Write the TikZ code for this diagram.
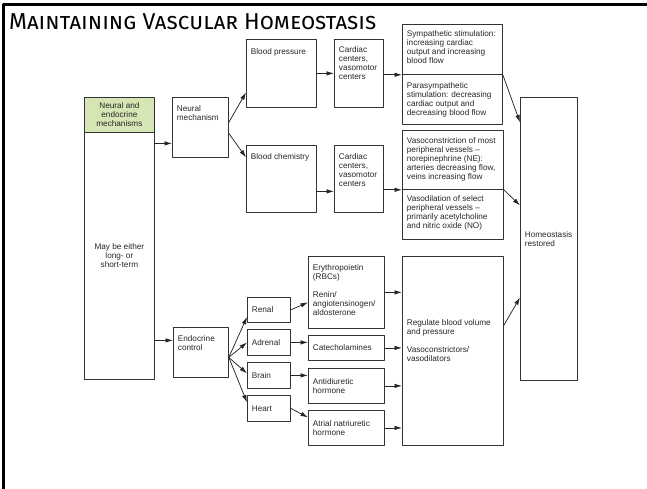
\documentclass[tikz,border=0pt]{standalone}
\usepackage{fontspec}
\setmainfont{Liberation Sans}
\newfontfamily\titlefont[Letters=SmallCaps]{Fira Sans}
\usetikzlibrary{arrows.meta}
\definecolor{hdrgreen}{RGB}{214,229,180}
\newcommand{\celltop}[4][8pt]{\parbox[c][#3][t]{#2}{\raggedright\vspace*{#1}#4}}
\newcommand{\cellmid}[3]{\parbox[c][#2][c]{#1}{\raggedright#3}}

\begin{document}
\begin{tikzpicture}[x=1pt,y=-1pt,line cap=round,line join=round,
  blk/.style={draw=black!80,line width=.8pt,anchor=north west,inner xsep=4.5pt,inner ysep=0pt,
    text=black!85,font=\fontsize{8.2}{9}\selectfont},
  arr/.style={-{Latex[length=7.5pt,width=4.5pt]},draw=black!85,line width=.75pt}]
\path[use as bounding box] (0,0) rectangle (647,489);
\draw[line width=3pt] (647,5) -- (3.5,5) -- (3.5,489);
\node[font=\titlefont\fontsize{23}{23}\selectfont,anchor=base west,inner sep=0pt] (title) at (9,30) {Maintaining Vascular Homeostasis};
\node[blk,fill=hdrgreen] (mech) at (84,97) {\cellmid{61pt}{35pt}{\centering Neural and\\endocrine\\mechanisms}};
\node[blk] (term) at (84,132) {\cellmid{61pt}{247pt}{\centering May be either\\long- or\\short-term}};
\node[blk] (neural) at (172,97) {\celltop{47pt}{60pt}{Neural\\mechanism}};
\node[blk] (bp) at (246,39) {\celltop[9pt]{61pt}{68pt}{Blood pressure}};
\node[blk] (chem) at (246,145) {\celltop[8.3pt]{61pt}{67pt}{Blood chemistry}};
\node[blk] (cc1) at (334,39) {\celltop[7.3pt]{40pt}{68pt}{Cardiac\\centers,\\vasomotor\\centers}};
\node[blk] (cc2) at (334,145) {\celltop{40pt}{67pt}{Cardiac\\centers,\\vasomotor\\centers}};
\node[blk] (symp) at (402,24) {\celltop[6.3pt]{91pt}{50pt}{Sympathetic stimulation:\\increasing cardiac\\output and increasing\\blood flow}};
\node[blk] (para) at (402,74) {\celltop{91pt}{50pt}{Parasympathetic\\stimulation: decreasing\\cardiac output and\\decreasing blood flow}};
\node[blk] (vcon) at (402,130) {\celltop[7.3pt]{92pt}{59pt}{Vasoconstriction of most\\peripheral vessels --\\norepinephrine (NE):\\arteries decreasing flow,\\veins increasing flow}};
\node[blk] (vdil) at (402,189) {\celltop[6.3pt]{92pt}{50pt}{Vasodilation of select\\peripheral vessels --\\primarily acetylcholine\\and nitric oxide (NO)}};
\node[blk] (home) at (520,97) {\cellmid{48pt}{283pt}{Homeostasis\\restored}};
\node[blk] (endo) at (173,327) {\celltop[8.3pt]{46pt}{50pt}{Endocrine\\control}};
\node[blk] (renal) at (247,297) {\cellmid{34pt}{25pt}{Renal}};
\node[blk] (adrenal) at (247,329) {\cellmid{34pt}{26pt}{Adrenal}};
\node[blk] (brain) at (247,362) {\cellmid{34pt}{26pt}{Brain}};
\node[blk] (heart) at (247,395) {\cellmid{34pt}{26pt}{Heart}};
\node[blk] (epo) at (308,256) {\celltop[8.3pt]{67pt}{72pt}{Erythropoietin\\(RBCs)\\[9pt]Renin/\\angiotensinogen/\\aldosterone}};
\node[blk] (cat) at (308,335) {\cellmid{67pt}{25pt}{Catecholamines}};
\node[blk] (adh) at (308,368) {\cellmid{67pt}{35pt}{Antidiuretic\\hormone}};
\node[blk] (anp) at (308,410) {\cellmid{67pt}{35pt}{Atrial natriuretic\\hormone}};
\node[blk] (reg) at (402,256) {\celltop[63pt]{92pt}{189pt}{Regulate blood volume\\and pressure\\[9pt]Vasoconstrictors/\\vasodilators}};
\draw[arr] ([yshift=-16pt]neural.west -| term.east) -- ([yshift=-16pt]neural.west);
\draw[arr] ([yshift=5pt]neural.east) -- ([yshift=-19pt]bp.west);
\draw[arr] ([yshift=-6pt]neural.east) -- ([yshift=21.5pt]chem.west);
\draw[arr] (bp.east) -- (cc1.west);
\draw[arr] ([yshift=-12.5pt]cc2.west -| chem.east) -- ([yshift=-12.5pt]cc2.west);
\draw[arr] (symp.south west -| cc1.east) -- (symp.south west);
\draw[arr] (vcon.south west -| cc2.east) -- (vcon.south west);
\draw[arr] (symp.south east) -- ([yshift=116.5pt]home.west);
\draw[arr] (vcon.south east) -- ([yshift=33.5pt]home.west);
\draw[arr] ([yshift=25.5pt]reg.east) -- ([yshift=-58.5pt]home.west);
\draw[arr] ([yshift=12pt]endo.west -| term.east) -- ([yshift=12pt]endo.west);
\foreach \t/\s in {renal/-7pt,adrenal/0pt,brain/2pt,heart/6pt}
  \draw[arr] ([yshift=-5pt]endo.east) -- ([yshift=\s]\t.west);
\draw[arr] (renal.east) -- ([yshift=-10pt]epo.west);
\draw[arr] (adrenal.east) -- (adrenal.east -| cat.west);
\draw[arr] (brain.east) -- (brain.east -| adh.west);
\draw[arr] (heart.east) -- ([yshift=10.5pt]anp.west);
\foreach \s in {epo,cat,adh,anp}
  \draw[arr] (\s.east) -- (\s.east -| reg.west);
\end{tikzpicture}
\end{document}
